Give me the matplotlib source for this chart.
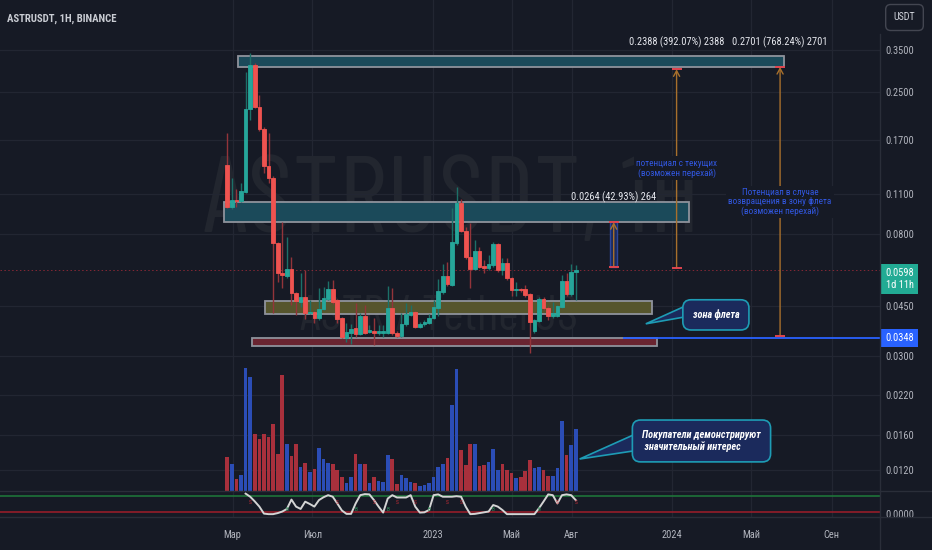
import datetime as dt
import numpy as np
import matplotlib
matplotlib.use("Agg")
import matplotlib.pyplot as plt
import matplotlib.dates as mdates
from matplotlib.font_manager import fontManager
from matplotlib.patches import Rectangle, Polygon
from matplotlib.transforms import blended_transform_factory
from matplotlib.lines import Line2D
from matplotlib.ticker import FixedLocator, NullLocator, FixedFormatter

installed = {f.name for f in fontManager.ttflist}
CANDIDATES = [("Liberation Sans Narrow", 1.0), ("Roboto Condensed", 0.9),
              ("Open Sans Condensed", 0.9), ("Liberation Sans", 0.82), ("DejaVu Sans", 0.72)]
FONT, K = next((n, k) for n, k in CANDIDATES if n in installed)
WM_FONT = next((n for n in ["Barlow Condensed", "Roboto Condensed", FONT] if n in installed))
plt.rcParams["font.family"] = [FONT, "DejaVu Sans"]

# ---------------- data ----------------
first_week = dt.date(2022, 2, 21)
week_dates = [first_week + dt.timedelta(days=7 * i) for i in range(77)]

opens = [0.1391, 0.0993, 0.1050, 0.1042, 0.1120, 0.2180, 0.3103, 0.2216, 0.1857, 0.1380,
         0.1253, 0.0744, 0.0585, 0.0571, 0.0604, 0.0498, 0.0463, 0.0482, 0.0424, 0.0428,
         0.0408, 0.0438, 0.0475, 0.0514, 0.0471, 0.0408, 0.0347, 0.0361, 0.0376, 0.0358,
         0.0414, 0.0364, 0.0367, 0.0361, 0.0361, 0.0361, 0.0442, 0.0361, 0.0353, 0.0389,
         0.0418, 0.0428, 0.0379, 0.0389, 0.0392, 0.0408, 0.0442, 0.0502, 0.0571, 0.0531,
         0.0744, 0.1025, 0.0819, 0.0665, 0.0604, 0.0698, 0.0619, 0.0609, 0.0623, 0.0738,
         0.0599, 0.0634, 0.0562, 0.0510, 0.0514, 0.0514, 0.0494, 0.0367, 0.0398, 0.0475,
         0.0442, 0.0414, 0.0414, 0.0445, 0.0548, 0.0494, 0.0589]
closes = [0.0993, 0.1050, 0.1042, 0.1129, 0.2180, 0.3103, 0.2216, 0.1857, 0.1380, 0.1253,
          0.0744, 0.0585, 0.0575, 0.0604, 0.0498, 0.0467, 0.0482, 0.0424, 0.0428, 0.0408,
          0.0438, 0.0478, 0.0514, 0.0463, 0.0405, 0.0350, 0.0364, 0.0373, 0.0358, 0.0414,
          0.0361, 0.0370, 0.0361, 0.0367, 0.0367, 0.0442, 0.0361, 0.0353, 0.0389, 0.0421,
          0.0428, 0.0379, 0.0389, 0.0395, 0.0408, 0.0445, 0.0506, 0.0571, 0.0535, 0.0750,
          0.1025, 0.0819, 0.0665, 0.0604, 0.0698, 0.0614, 0.0609, 0.0629, 0.0738, 0.0599,
          0.0634, 0.0562, 0.0510, 0.0514, 0.0510, 0.0490, 0.0395, 0.0401, 0.0475, 0.0442,
          0.0414, 0.0424, 0.0449, 0.0548, 0.0494, 0.0589, 0.0598]
highs = [0.1798, 0.1253, 0.1148, 0.1204, 0.2933, 0.3417, 0.3160, 0.2440, 0.1880, 0.1798,
         0.1270, 0.0750, 0.0881, 0.0781, 0.0665, 0.0502, 0.0585, 0.0599, 0.0471, 0.0431,
         0.0518, 0.0522, 0.0548, 0.0553, 0.0475, 0.0411, 0.0392, 0.0389, 0.0460, 0.0424,
         0.0452, 0.0386, 0.0408, 0.0386, 0.0386, 0.0527, 0.0518, 0.0367, 0.0424, 0.0460,
         0.0452, 0.0431, 0.0395, 0.0401, 0.0421, 0.0471, 0.0557, 0.0629, 0.0639, 0.0985,
         0.1166, 0.1059, 0.0846, 0.0874, 0.0762, 0.0721, 0.0650, 0.0676, 0.0750, 0.0744,
         0.0660, 0.0660, 0.0566, 0.0544, 0.0518, 0.0531, 0.0498, 0.0405, 0.0482, 0.0482,
         0.0449, 0.0463, 0.0452, 0.0575, 0.0585, 0.0629, 0.0623]
lows = [0.0985, 0.0977, 0.0993, 0.1034, 0.1112, 0.1996, 0.2198, 0.1830, 0.1304, 0.1204,
        0.0424, 0.0544, 0.0518, 0.0562, 0.0452, 0.0418, 0.0445, 0.0405, 0.0421, 0.0392,
        0.0401, 0.0435, 0.0471, 0.0456, 0.0392, 0.0347, 0.0336, 0.0331, 0.0350, 0.0355,
        0.0358, 0.0361, 0.0328, 0.0355, 0.0350, 0.0358, 0.0355, 0.0350, 0.0350, 0.0383,
        0.0414, 0.0376, 0.0376, 0.0383, 0.0389, 0.0405, 0.0414, 0.0494, 0.0527, 0.0527,
        0.0732, 0.0810, 0.0656, 0.0518, 0.0599, 0.0609, 0.0585, 0.0599, 0.0614, 0.0589,
        0.0575, 0.0553, 0.0486, 0.0486, 0.0502, 0.0482, 0.0308, 0.0361, 0.0395, 0.0435,
        0.0401, 0.0408, 0.0411, 0.0442, 0.0486, 0.0486, 0.0471]

volumes = [10.1, 8.2, 3.6, 4.8, 36.9, 34.1, 17.0, 15.6, 17.1, 16.2,
           20.1, 11.2, 34.8, 14.0, 10.5, 14.0, 7.1, 8.3, 5.8, 6.6,
           12.8, 9.6, 8.4, 8.0, 6.2, 4.2, 2.5, 4.3, 11.0, 8.2,
           8.0, 2.3, 4.3, 3.0, 2.7, 10.7, 9.6, 2.1, 4.8, 4.0,
           2.7, 2.3, 1.6, 1.8, 2.3, 4.3, 7.3, 8.2, 9.8, 25.8,
           36.6, 12.3, 7.7, 14.0, 14.1, 7.5, 7.8, 8.7, 12.6, 6.4,
           8.1, 6.2, 5.5, 3.8, 4.1, 6.1, 9.2, 6.8, 7.3, 6.3,
           4.5, 4.5, 6.9, 21.0, 10.8, 13.7, 18.6]
volume_side = list("rbrbbbrrrr" "rrrbrrbrbr" "bbbrrrbbrb" "rbrbbbrrbb"
                   "brbbbbbbrb" "brrrbrrbbb" "rrrbrrrbbr" "rbbbrbb")

osc_values = [np.nan] * 4 + [
    90, 78, 60, 40, 13, 11, 11, 15, 21, 31,
    67, 40, 31, 59, 50, 40, 65, 76, 84, 78,
    52, 25, 12, 12, 52, 84, 88, 87, 65, 40,
    17, 71, 84, 75, 75, 75, 84, 40, 17, 18,
    27, 84, 87, 78, 78, 78, 80, 78, 40, 11,
    12, 15, 18, 21, 46, 40, 27, 11, 11, 11,
    11, 11, 11, 11, 34, 60, 87, 84, 52, 84,
    87, 84, 65]
sell_bars = [5, 24, 32, 37, 41, 48, 51, 72, 76]
buy_bars = [13, 28, 35, 44, 58, 68]

price_ticks = [0.35, 0.25, 0.17, 0.11, 0.08, 0.045, 0.03, 0.022, 0.016, 0.012]
time_tick_dates = [dt.date(2022, 3, 1), dt.date(2022, 7, 1), dt.date(2023, 1, 1),
                   dt.date(2023, 5, 1), dt.date(2023, 8, 1), dt.date(2024, 1, 1),
                   dt.date(2024, 5, 1), dt.date(2024, 9, 1)]
time_tick_labels = ["Мар", "Июл", "2023", "Май", "Авг", "2024", "Май", "Сен"]

zone_starts = [dt.date(2022, 3, 9), dt.date(2022, 2, 16), dt.date(2022, 4, 19), dt.date(2022, 3, 31)]
zone_ends = [dt.date(2024, 6, 20), dt.date(2024, 1, 27), dt.date(2023, 12, 1), dt.date(2023, 12, 9)]
zone_lows = [0.3053, 0.0881, 0.0421, 0.03255]
zone_highs = [0.3333, 0.1034, 0.0467, 0.0347]
zone_colors = ["#1b4a5a", "#1b4a5a", "#56552d", "#6a2531"]

measure_dates = [dt.date(2023, 10, 4), dt.date(2024, 1, 8), dt.date(2024, 6, 14)]
measure_from = [0.0615, 0.0609, 0.0352]
measure_to = [0.0879, 0.2997, 0.3053]
measure_labels = ["0.0264 (42.93%) 264", "0.2388 (392.07%) 2388", "0.2701 (768.24%) 2701"]
measure_label_prices = [0.1077, 0.3729, 0.3729]

note_dates = [dt.date(2024, 1, 8), dt.date(2024, 6, 14)]
note_prices = [0.1357, 0.1034]
note_texts = ["потенциал с текущих\n(возможен перехай)",
              "Потенциал в случае\nвозвращения в зону флета\n(возможен перехай)"]

callout_texts = ["зона флета", "Покупатели демонстрируют\n значительный интерес"]
callout_dates = [dt.date(2024, 3, 8), dt.date(2024, 2, 15)]
callout_prices = [0.0418, 0.0152]
callout_tip_dates = [dt.date(2023, 11, 22), dt.date(2023, 8, 13)]
callout_tip_prices = [0.0389, 0.01315]
callout_base_dates = [dt.date(2024, 1, 28), dt.date(2023, 11, 13)]
callout_base_prices = [(0.0456, 0.0414), (0.01633, 0.01414)]

last_price = 0.0598
level_price = 0.0348
level_start = dt.date(2023, 10, 18)

# ---------------- style ----------------
BG = "#161a25"
GRID = "#222632"
SEP = "#2a2e39"
TXT = "#b2b5be"
UP, DN = "#26a69a", "#ef5350"
UPW, DNW = "#1c7068", "#93343a"
VOLC = {"b": "#2b4db6", "r": "#a8303c"}
WM = "#22262f"
CALL_FC, CALL_EC = "#1b2a5c", "#1e9cb5"

W, H = 932, 550
fig = plt.figure(figsize=(W / 100, H / 100), dpi=100, facecolor=BG)
renderer = fig.canvas.get_renderer()
AXR = 880
PXD = 0.655  # pixels per day
base = mdates.date2num(dt.date(2022, 3, 1))
X0 = 232.5
xlim_main = (base - X0 / PXD, base + (AXR - X0) / PXD)

ax = fig.add_axes([0, 1 - 491 / H, AXR / W, 491 / H])
ax.set_facecolor(BG)
ax_vol = fig.add_axes([0, 1 - 491 / H, AXR / W, 491 / H], sharex=ax)
ax_vol.patch.set_alpha(0)
ax_vol.set_zorder(ax.get_zorder() + 1)
ax_osc = fig.add_axes([0, 1 - 517 / H, AXR / W, 26 / H], sharex=ax)
ax_osc.set_facecolor(BG)
ax_time = fig.add_axes([0, 0, 1, 33 / H])
ax_time.set_facecolor(BG)
ax_time.set_zorder(5)

ax.set_yscale("log")
ax.set_xlim(*xlim_main)
ax.set_ylim(0.010174, 0.5228)

x = mdates.date2num(week_dates)
o, c = np.array(opens), np.array(closes)
h, l = np.array(highs), np.array(lows)
up = c >= o

# grid
for d in time_tick_dates:
    for a in (ax, ax_osc):
        a.axvline(mdates.date2num(d), color=GRID, lw=0.9, zorder=0)
ax.yaxis.set_major_locator(FixedLocator(price_ticks))
ax.yaxis.set_major_formatter(FixedFormatter([f"{p:.4f}" for p in price_ticks]))
ax.yaxis.set_minor_locator(NullLocator())
ax.grid(axis="y", color=GRID, lw=0.9, zorder=0)
ax.set_axisbelow(True)

# watermark (real text, sized to the reference width)
def watermark(text, cx, baseline, width_px):
    t = ax.text(cx / AXR, (491 - baseline) / 491, text, transform=ax.transAxes,
                ha="center", va="baseline", color=WM, fontsize=40, family=WM_FONT, zorder=0.5)
    t.set_fontsize(40 * width_px / t.get_window_extent(renderer).width)

watermark("ASTRUSDT, 1H", 451.5, 232, 497)
watermark("ASTR / TetherUS", 439, 330, 278)

# zones
for s, e, lo, hi, col in zip(zone_starts, zone_ends, zone_lows, zone_highs, zone_colors):
    s_, e_ = mdates.date2num(s), mdates.date2num(e)
    ax.add_patch(Rectangle((s_, lo), e_ - s_, hi - lo, fc=col, ec="#8f939c", lw=1.3, zorder=1))

# candles
ax.vlines(x[up], l[up], h[up], color=UPW, lw=1.0, zorder=3)
ax.vlines(x[~up], l[~up], h[~up], color=DNW, lw=1.0, zorder=3)
bottoms, tops = np.minimum(o, c), np.maximum(o, c)
cols = [UP if u else DN for u in up]
ax.bar(x, tops - bottoms, bottom=bottoms, width=5.6, color=cols, edgecolor=cols,
       linewidth=0.6, zorder=4)

# price lines
ax.axhline(last_price, color="#f23645", lw=0.7, ls=(0, (1.5, 2.5)), alpha=0.5, zorder=2)
ax.hlines(level_price, mdates.date2num(level_start), xlim_main[1], color="#2962ff", lw=1.3, zorder=2)

# measures
ORANGE = "#a8702c"
for i, (d, p0, p1, lab, lp) in enumerate(zip(measure_dates, measure_from, measure_to,
                                               measure_labels, measure_label_prices)):
    xd = mdates.date2num(d)
    if i == 0:
        ax.add_patch(Rectangle((xd - 5.5, p0), 11, p1 - p0, fc="#1b2a5e", ec="#2d4599",
                               lw=1, zorder=5))
    ax.annotate("", xy=(xd, p1), xytext=(xd, p0),
                arrowprops=dict(arrowstyle="->,head_length=0.4,head_width=0.22",
                                color=ORANGE, lw=1, shrinkA=0, shrinkB=0), zorder=6)
    ax.plot([xd, xd], [p0, p1], ls="none", marker="_", ms=7, mew=1.4, color="#e0454f", zorder=7)
    ax.text(xd, lp, lab, ha="center", va="center", color="#e6e8ee", fontsize=8.3 * K, zorder=8)

for d, p, t in zip(note_dates, note_prices, note_texts):
    ax.text(mdates.date2num(d), p, t, ha="center", va="center", color="#3157e0",
            fontsize=7.4 * K, linespacing=1.05, zorder=8,
            bbox=dict(boxstyle="square,pad=0.25", fc=BG, ec="none"))

# callouts
for t, cd, cp, td, tp_, bd, bp in zip(callout_texts, callout_dates, callout_prices,
                                      callout_tip_dates, callout_tip_prices,
                                      callout_base_dates, callout_base_prices):
    bx = mdates.date2num(bd)
    ax.add_patch(Polygon([(mdates.date2num(td), tp_), (bx, bp[0]), (bx, bp[1])], closed=True,
                         fc=CALL_FC, ec=CALL_EC, lw=1.2, zorder=9))
    ax.text(mdates.date2num(cd), cp, t, ha="center", va="center", color="white",
            fontsize=8.2 * K, fontweight="bold", fontstyle="italic", multialignment="left",
            linespacing=1.2, zorder=10,
            bbox=dict(boxstyle="round,pad=0.95,rounding_size=0.8", fc=CALL_FC, ec=CALL_EC, lw=1.2))

# axis ticks
ax.tick_params(axis="y", which="both", length=0, pad=3.6, labelcolor=TXT, labelsize=8.3 * K,
               right=True, left=False, labelright=True, labelleft=False)
ax.tick_params(axis="x", bottom=False, labelbottom=False)
for sp in ax.spines.values():
    sp.set_visible(False)

# axis value boxes
ytr = blended_transform_factory(ax.transAxes, ax.transData)
ax.annotate(f"{last_price:.4f}\n1d 11h", xy=(1, last_price), xycoords=ytr,
            xytext=(14, -6.6), textcoords="offset points", ha="center", va="center",
            color="white", fontsize=8.3 * K, linespacing=1.25, annotation_clip=False,
            bbox=dict(boxstyle="square,pad=0.38", fc="#22ab94", ec="none"))
ax.annotate(f"{level_price:.4f}", xy=(1, level_price), xycoords=ytr,
            xytext=(14, 0), textcoords="offset points", ha="center", va="center",
            color="white", fontsize=8.3 * K, annotation_clip=False,
            bbox=dict(boxstyle="square,pad=0.38", fc="#2962ff", ec="none"))

# volume
ax_vol.bar(x, volumes, width=5.6, color=[VOLC[s] for s in volume_side], zorder=2)
ax_vol.set_ylim(0, 147.3)
ax_vol.axis("off")

# oscillator
ax_osc.set_ylim(0, 100)
ax_osc.axhline(80, color="#1e7b3a", lw=1.1)
ax_osc.axhline(20, color="#a01d2a", lw=1.1)
ax_osc.plot(x, osc_values, color="#d4d4d4", lw=1.4, zorder=3)
for i in sell_bars:
    ax_osc.text(x[i], 55, "S", color="#c42b35", fontsize=4, ha="center", va="center", zorder=4)
for i in buy_bars:
    ax_osc.text(x[i], 28, "B", color="#2e8b57", fontsize=4, ha="center", va="center", zorder=4)
ax_osc.yaxis.set_major_locator(FixedLocator([11.5]))
ax_osc.yaxis.set_major_formatter(FixedFormatter(["0.0000"]))
ax_osc.tick_params(axis="y", length=0, pad=3.6, labelcolor=TXT, labelsize=8.3 * K,
                   right=True, left=False, labelright=True, labelleft=False)
ax_osc.tick_params(axis="x", bottom=False, labelbottom=False)
for sp in ax_osc.spines.values():
    sp.set_visible(False)

# time axis
ax_time.set_xlim(base - X0 / PXD, base + (W - X0) / PXD)
ax_time.set_ylim(0, 1)
for d, lab in zip(time_tick_dates, time_tick_labels):
    ax_time.text(mdates.date2num(d), 0.45, lab, ha="center", va="center", color=TXT,
                 fontsize=8.3 * K)
ax_time.axis("off")
ax_time.add_patch(Rectangle((0, 0), 1, 1, transform=ax_time.transAxes, fc=BG, ec="none", zorder=0))

# separators
fig.add_artist(Line2D([0, 1], [1 - 491 / H] * 2, color=SEP, lw=1, zorder=20))
fig.add_artist(Line2D([0, 1], [33 / H] * 2, color=SEP, lw=1, zorder=20))
fig.add_artist(Line2D([AXR / W] * 2, [0, 1 - 34 / H], color=SEP, lw=1, zorder=20))

# title and currency button
fig.text(7 / W, 1 - 19 / H, "ASTRUSDT, 1H, BINANCE", ha="left", va="center",
         color="#c9ccd3", fontsize=8.6 * K, fontweight="bold")
fig.text(904.5 / W, 1 - 17.5 / H, "USDT", ha="center", va="center", color="#d1d4dc",
         fontsize=8 * K,
         bbox=dict(boxstyle="round,pad=0.8,rounding_size=0.5", fc=BG, ec="#434651", lw=1))

fig.savefig("out.png", dpi=100, facecolor=BG)
